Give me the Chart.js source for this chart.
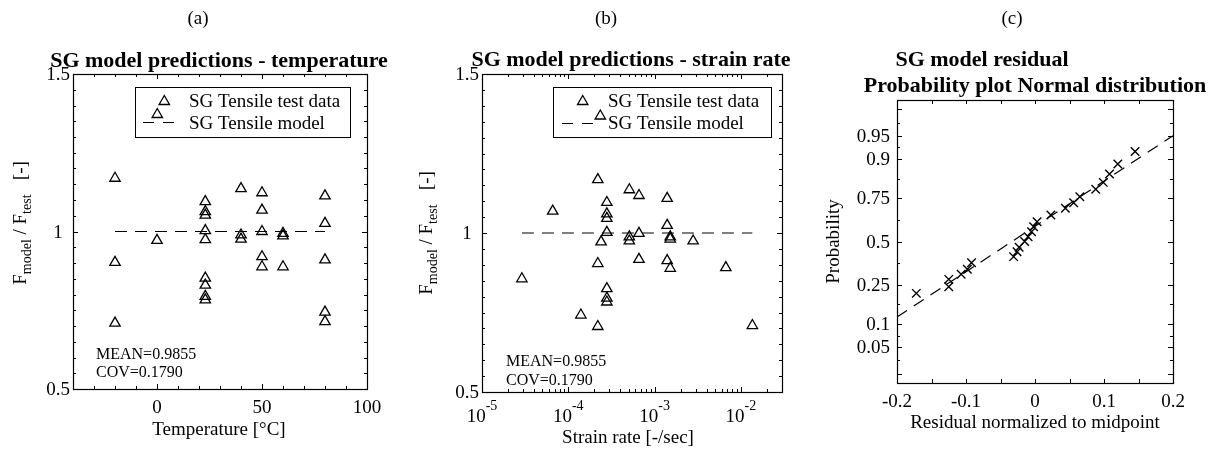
<!DOCTYPE html>
<html>
<head>
<meta charset="utf-8">
<script src="https://cdn.jsdelivr.net/npm/chart.js@4.4.0/dist/chart.umd.min.js"></script>
<style>
body { margin: 0; background: #fff; }
#wrap { position: relative; width: 1213px; height: 454px; }
canvas { position: absolute; left: 0; top: 0; }
</style>
</head>
<body>
<div id="wrap">
  <canvas id="graficoTemp" width="1213" height="454"></canvas>
  <canvas id="graficoRate" width="1213" height="454"></canvas>
  <canvas id="graficoProb" width="1213" height="454"></canvas>
</div>
<script>
// (a) temperature
const tempC = [-20, -20, -20, 0, 23, 23, 23, 23, 23, 23, 23, 23, 23, 40, 40, 40, 50, 50, 50, 50, 50, 60, 60, 60, 80, 80, 80, 80, 80];
const ratioTemp = [1.169, 0.902, 0.709, 0.972, 1.095, 1.063, 1.052, 1.003, 0.974, 0.852, 0.830, 0.794, 0.783,
                   1.136, 0.989, 0.976, 1.123, 1.068, 1.000, 0.920, 0.888, 0.994, 0.986, 0.888,
                   1.113, 1.026, 0.910, 0.744, 0.714];
const modelTempX = [-20, 80];
const modelTempY = [1, 1];

// (b) strain rate
const strainRate = [2.9e-5, 6.6e-5, 1.4e-4, 2.2e-4, 2.2e-4, 2.2e-4, 2.4e-4,
                    2.8e-4, 2.8e-4, 2.8e-4, 2.8e-4, 2.8e-4, 2.8e-4, 2.8e-4,
                    5.1e-4, 5.1e-4, 5.1e-4, 6.6e-4, 6.6e-4, 6.6e-4,
                    1.4e-3, 1.4e-3, 1.4e-3, 1.52e-3, 1.52e-3, 1.52e-3, 2.8e-3, 6.7e-3, 1.36e-2];
const ratioRate = [0.856, 1.069, 0.742, 1.168, 0.904, 0.706, 0.972,
                   1.096, 1.060, 1.046, 1.002, 0.825, 0.795, 0.783,
                   1.136, 0.988, 0.975, 1.118, 0.999, 0.917,
                   1.109, 1.024, 0.913, 0.988, 0.981, 0.889, 0.975, 0.891, 0.709];
const modelRateX = [2.9e-5, 1.36e-2];
const modelRateY = [1, 1];

// (c) residual probability plot
const residual = [-0.172, -0.125, -0.125, -0.107, -0.098, -0.092, -0.031, -0.026, -0.023, -0.015, -0.010, -0.005,
                  -0.002, 0.003, 0.023, 0.044, 0.056, 0.065, 0.088, 0.099, 0.108, 0.120, 0.145];
const probability = [0.210, 0.241, 0.278, 0.305, 0.333, 0.371, 0.407, 0.437, 0.464, 0.500, 0.530, 0.560,
                     0.591, 0.621, 0.660, 0.697, 0.727, 0.757, 0.792, 0.821, 0.853, 0.886, 0.919];
const refLineX = [-0.2, 0.2];
const refLineP = [0.12, 0.95];

// ticks
const ratioTicks = [0.5, 1, 1.5];
const ratioTickLabels = ['0.5', '1', '1.5'];
const tempTicks = [0, 50, 100];
const tempTickLabels = ['0', '50', '100'];
const rateTicks = [1e-5, 1e-4, 1e-3, 1e-2];
const rateTickExp = ['-5', '-4', '-3', '-2'];
const residTicks = [-0.2, -0.1, 0, 0.1, 0.2];
const residTickLabels = ['-0.2', '-0.1', '0', '0.1', '0.2'];
const probTicks = [0.02, 0.05, 0.1, 0.25, 0.5, 0.75, 0.9, 0.95, 0.98];
const probTickLabels = ['', '0.05', '0.1', '0.25', '0.5', '0.75', '0.9', '0.95', ''];

const statsText = ['MEAN=0.9855', 'COV=0.1790'];

const SERIF = "'Liberation Serif', 'Times New Roman', serif";

// inverse normal cdf (Acklam)
function probit(p) {
    const a = [-3.969683028665376e+01, 2.209460984245205e+02, -2.759285104469687e+02, 1.383577518672690e+02, -3.066479806614716e+01, 2.506628277459239e+00];
    const b = [-5.447609879822406e+01, 1.615858368580409e+02, -1.556989798598866e+02, 6.680131188771972e+01, -1.328068155288572e+01];
    const c = [-7.784894002430293e-03, -3.223964580411365e-01, -2.400758277161838e+00, -2.549732539343734e+00, 4.374664141464968e+00, 2.938163982698783e+00];
    const d = [7.784695709041462e-03, 3.224671290700398e-01, 2.445134137142996e+00, 3.754408661907416e+00];
    const plow = 0.02425;
    let q, r;
    if (p < plow) {
        q = Math.sqrt(-2 * Math.log(p));
        return (((((c[0]*q+c[1])*q+c[2])*q+c[3])*q+c[4])*q+c[5]) / ((((d[0]*q+d[1])*q+d[2])*q+d[3])*q+1);
    }
    if (p <= 1 - plow) {
        q = p - 0.5; r = q * q;
        return (((((a[0]*r+a[1])*r+a[2])*r+a[3])*r+a[4])*r+a[5])*q / (((((b[0]*r+b[1])*r+b[2])*r+b[3])*r+b[4])*r+1);
    }
    q = Math.sqrt(-2 * Math.log(1 - p));
    return -(((((c[0]*q+c[1])*q+c[2])*q+c[3])*q+c[4])*q+c[5]) / ((((d[0]*q+d[1])*q+d[2])*q+d[3])*q+1);
}

function txt(ctx, s, x, y, size, align, bold) {
    ctx.font = (bold ? 'bold ' : '') + size + 'px ' + SERIF;
    ctx.textAlign = align || 'left';
    ctx.textBaseline = 'alphabetic';
    ctx.fillStyle = '#000';
    ctx.fillText(s, x, y);
}

function frame(ctx, a) {
    ctx.strokeStyle = '#000';
    ctx.lineWidth = 1.2;
    ctx.strokeRect(Math.round(a.left) + 0.5, Math.round(a.top) + 0.5, Math.round(a.right - a.left), Math.round(a.bottom - a.top));
}

function ticksX(ctx, scale, a, vals, len) {
    ctx.lineWidth = 1;
    ctx.beginPath();
    vals.forEach(v => {
        const x = Math.round(scale.getPixelForValue(v)) + 0.5;
        ctx.moveTo(x, a.bottom); ctx.lineTo(x, a.bottom - len);
        ctx.moveTo(x, a.top); ctx.lineTo(x, a.top + len);
    });
    ctx.stroke();
}

function ticksY(ctx, scale, a, vals, len) {
    ctx.lineWidth = 1;
    ctx.beginPath();
    vals.forEach(v => {
        const y = Math.round(scale.getPixelForValue(v)) + 0.5;
        ctx.moveTo(a.left, y); ctx.lineTo(a.left + len, y);
        ctx.moveTo(a.right, y); ctx.lineTo(a.right - len, y);
    });
    ctx.stroke();
}

function tri(ctx, x, y, r) {
    ctx.beginPath();
    ctx.moveTo(x, y - r);
    ctx.lineTo(x + r * Math.sin(2 * Math.PI / 3), y + r / 2);
    ctx.lineTo(x - r * Math.sin(2 * Math.PI / 3), y + r / 2);
    ctx.closePath();
    ctx.stroke();
}

function ratioLabel(ctx, x, yc) {
    const parts = [['F', 19, 0], ['model', 14, 5], [' / F', 19, 0], ['test', 14, 5], ['   [-]', 19, 0]];
    let total = 0;
    parts.forEach(p => { ctx.font = p[1] + 'px ' + SERIF; total += ctx.measureText(p[0]).width; });
    ctx.save();
    ctx.translate(x, yc);
    ctx.rotate(-Math.PI / 2);
    let u = -total / 2;
    parts.forEach(p => {
        ctx.font = p[1] + 'px ' + SERIF;
        ctx.textAlign = 'left';
        ctx.fillStyle = '#000';
        ctx.fillText(p[0], u, p[2]);
        u += ctx.measureText(p[0]).width;
    });
    ctx.restore();
}

function legend(ctx, box, triA, triB, dash, textX) {
    ctx.strokeStyle = '#000';
    ctx.lineWidth = 1;
    ctx.strokeRect(box[0] + 0.5, box[1] + 0.5, box[2] - box[0], box[3] - box[1]);
    ctx.lineWidth = 1.3;
    tri(ctx, triA[0], triA[1], 6);
    tri(ctx, triB[0], triB[1], 6);
    ctx.save();
    ctx.lineWidth = 1.2;
    ctx.setLineDash([11, 9]);
    ctx.beginPath();
    ctx.moveTo(dash[0], dash[2]); ctx.lineTo(dash[1], dash[2]);
    ctx.stroke();
    ctx.restore();
    txt(ctx, 'SG Tensile test data', textX, 106.5, 19);
    txt(ctx, 'SG Tensile model', textX, 129, 19);
}

function pts(xs, ys) {
    return xs.map((x, i) => ({ x: x, y: ys[i] }));
}

function opciones(pad, xs, ys) {
    return {
        responsive: false,
        animation: false,
        events: [],
        layout: { padding: pad },
        scales: { x: Object.assign({ display: false }, xs), y: Object.assign({ display: false }, ys) },
        plugins: { legend: { display: false }, tooltip: { enabled: false } }
    };
}

const markerTri = {
    pointStyle: 'triangle', pointRadius: 6, pointBorderWidth: 1.3,
    pointBorderColor: '#000', pointBackgroundColor: 'rgba(0,0,0,0)', showLine: false, clip: false
};
const dashedLine = {
    showLine: true, pointRadius: 0, borderColor: '#000', borderWidth: 1.2, borderDash: [12, 8], fill: false
};

const ratioMinor = [];
for (let i = 0; i <= 20; i++) ratioMinor.push(0.5 + i * 0.05);

// (a)
new Chart(document.getElementById('graficoTemp'), {
    type: 'scatter',
    data: {
        datasets: [
            Object.assign({ data: pts(modelTempX, modelTempY) }, dashedLine),
            Object.assign({ data: pts(tempC, ratioTemp) }, markerTri)
        ]
    },
    options: opciones({ left: 73, top: 74, right: 846, bottom: 65 }, { min: -40, max: 100 }, { min: 0.5, max: 1.5 }),
    plugins: [{
        id: 'decoA',
        afterDraw(chart) {
            const ctx = chart.ctx, a = chart.chartArea, sx = chart.scales.x, sy = chart.scales.y;
            ctx.save();
            frame(ctx, a);
            const minor = [];
            for (let v = -40; v <= 100; v += 10) minor.push(v);
            ticksX(ctx, sx, a, minor, 3);
            ticksX(ctx, sx, a, tempTicks, 5);
            ticksY(ctx, sy, a, ratioMinor, 3);
            ticksY(ctx, sy, a, ratioTicks, 5);
            tempTicks.forEach((v, i) => txt(ctx, tempTickLabels[i], sx.getPixelForValue(v), 413, 19, 'center'));
            ratioTicks.forEach((v, i) => txt(ctx, ratioTickLabels[i], 58, sy.getPixelForValue(v) + 6, 19, 'center'));
            txt(ctx, 'Temperature [\u00B0C]', 219, 435, 19, 'center');
            ratioLabel(ctx, 25.5, 223);
            txt(ctx, 'SG model predictions - temperature', 219, 66.5, 22, 'center', true);
            txt(ctx, '(a)', 198, 24, 19, 'center');
            txt(ctx, statsText[0], 96, 358.5, 16);
            txt(ctx, statsText[1], 96, 377, 16);
            legend(ctx, [135, 87, 350, 137], [164.3, 101.5], [157.3, 114.5], [143, 177, 122.5], 189);
            ctx.restore();
        }
    }]
});

// (b)
const rateMinor = [];
[1e-5, 1e-4, 1e-3, 1e-2].forEach(d => { for (let m = 2; m <= 9; m++) if (d * m <= 0.03) rateMinor.push(d * m); });

new Chart(document.getElementById('graficoRate'), {
    type: 'scatter',
    data: {
        datasets: [
            Object.assign({ data: pts(modelRateX, modelRateY) }, dashedLine),
            Object.assign({ data: pts(strainRate, ratioRate) }, markerTri)
        ]
    },
    options: opciones({ left: 482, top: 74, right: 431, bottom: 62 }, { type: 'logarithmic', min: 1e-5, max: 0.03 }, { min: 0.5, max: 1.5 }),
    plugins: [{
        id: 'decoB',
        afterDraw(chart) {
            const ctx = chart.ctx, a = chart.chartArea, sx = chart.scales.x, sy = chart.scales.y;
            ctx.save();
            frame(ctx, a);
            ticksX(ctx, sx, a, rateMinor, 3);
            ticksX(ctx, sx, a, rateTicks, 5);
            ticksY(ctx, sy, a, ratioMinor, 3);
            ticksY(ctx, sy, a, ratioTicks, 5);
            rateTicks.forEach((v, i) => {
                ctx.font = '19px ' + SERIF;
                const w1 = ctx.measureText('10').width;
                ctx.font = '14px ' + SERIF;
                const w2 = ctx.measureText(rateTickExp[i]).width;
                const x0 = sx.getPixelForValue(v) - (w1 + w2) / 2;
                txt(ctx, '10', x0, 421.5, 19);
                txt(ctx, rateTickExp[i], x0 + w1, 410, 14);
            });
            ratioTicks.forEach((v, i) => txt(ctx, ratioTickLabels[i], 467, sy.getPixelForValue(v) + 6, 19, 'center'));
            txt(ctx, 'Strain rate [-/sec]', 628, 443, 19, 'center');
            ratioLabel(ctx, 432, 233);
            txt(ctx, 'SG model predictions - strain rate', 631, 66, 22, 'center', true);
            txt(ctx, '(b)', 606, 24, 19, 'center');
            txt(ctx, statsText[0], 506, 366, 16);
            txt(ctx, statsText[1], 506, 385, 16);
            legend(ctx, [553, 87, 771, 137], [582.7, 101.5], [600.3, 116], [562, 597, 123.5], 608);
            ctx.restore();
        }
    }]
});

// (c)
new Chart(document.getElementById('graficoProb'), {
    type: 'scatter',
    data: {
        datasets: [
            Object.assign({ data: pts(refLineX, refLineP.map(probit)) }, dashedLine),
            {
                data: pts(residual, probability.map(probit)),
                pointStyle: 'crossRot', pointRadius: 6, pointBorderWidth: 1.4,
                pointBorderColor: '#000', showLine: false, clip: false
            }
        ]
    },
    options: opciones({ left: 897, top: 100, right: 40, bottom: 71 }, { min: -0.2, max: 0.2 }, { min: -2.2, max: 2.2 }),
    plugins: [{
        id: 'decoC',
        afterDraw(chart) {
            const ctx = chart.ctx, a = chart.chartArea, sx = chart.scales.x, sy = chart.scales.y;
            ctx.save();
            frame(ctx, a);
            ticksX(ctx, sx, a, [-0.2, -0.15, -0.1, -0.05, 0, 0.05, 0.1, 0.15, 0.2], 4);
            const z = probTicks.map(probit);
            const mids = [];
            for (let i = 0; i < z.length - 1; i++) mids.push((z[i] + z[i + 1]) / 2);
            ticksY(ctx, sy, a, mids, 3);
            ticksY(ctx, sy, a, z, 5);
            residTicks.forEach((v, i) => txt(ctx, residTickLabels[i], sx.getPixelForValue(v), 406.5, 19, 'center'));
            probTicks.forEach((p, i) => {
                if (probTickLabels[i]) txt(ctx, probTickLabels[i], 890, sy.getPixelForValue(z[i]) + 6, 19, 'right');
            });
            txt(ctx, 'Residual normalized to midpoint', 1035, 427.5, 19, 'center');
            ctx.save();
            ctx.translate(839, 241.5);
            ctx.rotate(-Math.PI / 2);
            txt(ctx, 'Probability', 0, 0, 19, 'center');
            ctx.restore();
            txt(ctx, 'SG model residual', 982, 66, 22, 'center', true);
            txt(ctx, 'Probability plot Normal distribution', 1035, 91.5, 22, 'center', true);
            txt(ctx, '(c)', 1012, 24, 19, 'center');
            ctx.restore();
        }
    }]
});
</script>
</body>
</html>
